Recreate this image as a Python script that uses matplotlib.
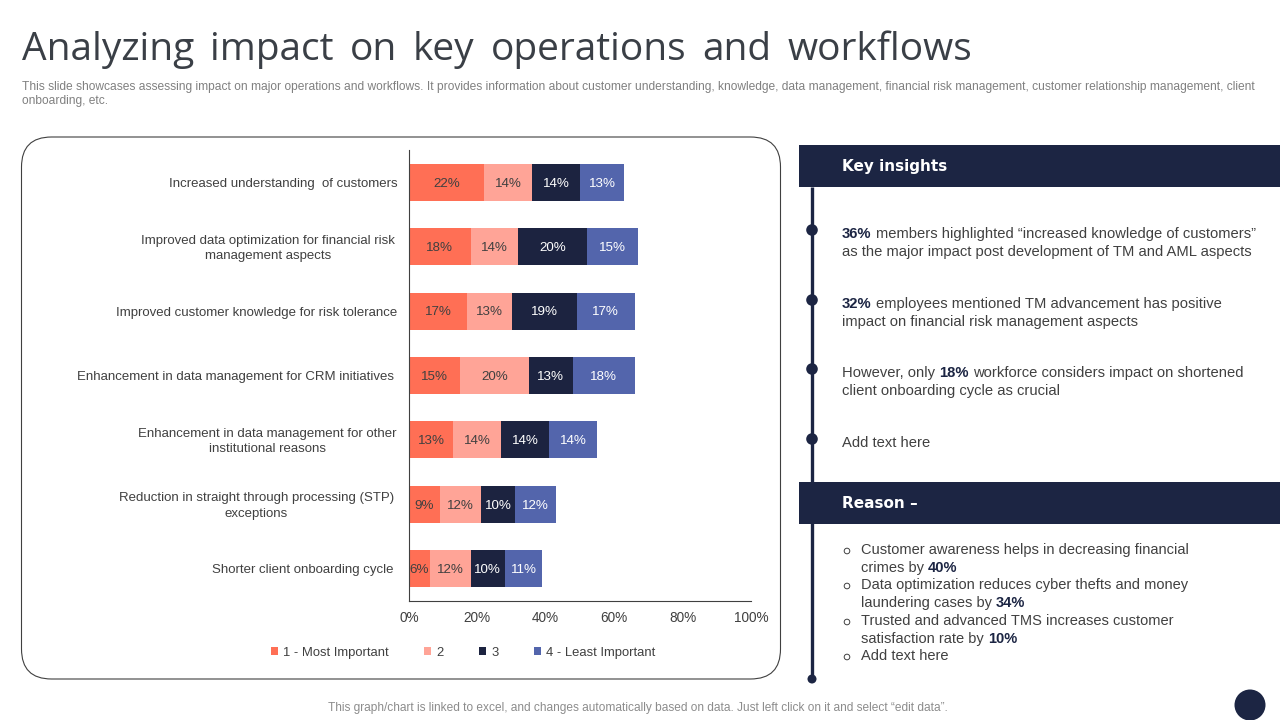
import matplotlib
matplotlib.use("Agg")
import numpy as np
import matplotlib.pyplot as plt
from matplotlib.patches import FancyBboxPatch, Rectangle, Circle

plt.rcParams["font.family"] = ["Liberation Sans", "DejaVu Sans"]

# ----------------- Data -----------------
categories = [
    "Increased understanding  of customers",
    "Improved data optimization for financial risk\nmanagement aspects",
    "Improved customer knowledge for risk tolerance",
    "Enhancement in data management for CRM initiatives",
    "Enhancement in data management for other\ninstitutional reasons",
    "Reduction in straight through processing (STP)\nexceptions",
    "Shorter client onboarding cycle",
]
series_names = ["1 - Most Important", "2", "3", "4 - Least Important"]
most_important = [22, 18, 17, 15, 13, 9, 6]
second = [14, 14, 13, 20, 14, 12, 12]
third = [14, 20, 19, 13, 14, 10, 10]
least_important = [13, 15, 17, 18, 14, 12, 11]
x_ticks = [0, 20, 40, 60, 80, 100]

title = "Analyzing impact on key operations and workflows"
subtitle = [
    "This slide showcases assessing impact on major operations and workflows. It provides information about customer understanding, knowledge, data management, financial risk management, customer relationship management, client",
    "onboarding, etc.",
]
footer = "This graph/chart is linked to excel, and changes automatically based on data. Just left click on it and select \u201cedit data\u201d."

# each line is a list of (text, bold) runs
insights = [
    [[("36%", True), (" members highlighted \u201cincreased knowledge of customers\u201d", False)],
     [("as the major impact post development of TM and AML aspects", False)]],
    [[("32%", True), (" employees mentioned TM advancement has positive", False)],
     [("impact on financial risk management aspects", False)]],
    [[("However, only ", False), ("18%", True), (" workforce considers impact on shortened", False)],
     [("client onboarding cycle as crucial", False)]],
    [[("Add text here", False)]],
]
reasons = [
    [[("Customer awareness helps in decreasing financial", False)],
     [("crimes by ", False), ("40%", True)]],
    [[("Data optimization reduces cyber thefts and money", False)],
     [("laundering cases by ", False), ("34%", True)]],
    [[("Trusted and advanced TMS increases customer", False)],
     [("satisfaction rate by ", False), ("10%", True)]],
    [[("Add text here", False)]],
]

NAVY = "#1c2543"
TEXT = "#404040"
colors = ["#ff6f55", "#ffa497", "#1c2340", "#5365ac"]
label_colors = ["#404040", "#404040", "white", "white"]

W, H = 1280, 720
fig = plt.figure(figsize=(12.8, 7.2), dpi=100)

# page layer in pixel coordinates
page = fig.add_axes([0, 0, 1, 1])
page.set_xlim(0, W)
page.set_ylim(H, 0)
page.axis("off")


def draw_runs(x, y, runs, size, color=TEXT, bold_color=NAVY):
    # draw text pieces side by side on one baseline, measuring each to place the next
    renderer = fig.canvas.get_renderer()
    for text, bold in runs:
        lead = len(text) - len(text.lstrip(" "))
        trail = len(text) - len(text.rstrip(" "))
        space = 0.278 * size * 100 / 72
        x += lead * space
        t = page.text(x, y + 5, text.strip(" "), fontsize=size, va="baseline", ha="left",
                      color=bold_color if bold else color,
                      fontweight="bold" if bold else "normal")
        x += t.get_window_extent(renderer).width + trail * space
    return x


# title words have wider gaps than the font's own space
renderer = fig.canvas.get_renderer()
title_x = 22
for word in title.split(" "):
    t = page.text(title_x, 60, word, fontsize=28, color="#3a3f46", family="Open Sans",
                  va="baseline")
    title_x += t.get_window_extent(renderer).width + 16

for line, y in zip(subtitle, [87, 101]):
    page.text(22, y, line, fontsize=8.65, color="#808080", va="center")
page.text(638, 708, footer, fontsize=8.6, color="#8c8c8c", ha="center", va="center")

# rounded chart frame
page.add_patch(FancyBboxPatch((21.5 + 30, 137 + 30), 759 - 60, 542 - 60,
                              boxstyle="round,pad=30,rounding_size=30",
                              fc="white", ec="#404040", lw=0.8))

# right hand panel
page.plot([812, 812], [187, 679], color=NAVY, lw=2.4, solid_capstyle="butt")
for y0, label in zip([145, 482], ["Key insights", "Reason \u2013"]):
    page.add_patch(Rectangle((799, y0), 481, 42, fc=NAVY, ec="none", zorder=3))
    page.text(842, y0 + 22, label, fontsize=11, color="white", fontweight="bold",
              family="DejaVu Sans", va="center", zorder=4)

for group, y0 in zip(insights, [233, 303, 372, 442]):
    page.add_patch(Circle((812, y0 - 3), 5.8, fc=NAVY, ec="none", zorder=3))
    for i, runs in enumerate(group):
        draw_runs(842, y0 + i * 18, runs, 10.6)
page.add_patch(Circle((812, 679), 4.5, fc=NAVY, ec="none", zorder=3))

for group, y0 in zip(reasons, [549, 584, 620, 655]):
    page.add_patch(Circle((847, y0 + 2), 2.8, fc="white", ec=TEXT, lw=0.7))
    for i, runs in enumerate(group):
        draw_runs(861, y0 + i * 18, runs, 10.5)

page.add_patch(Circle((1250, 705), 15.5, fc=NAVY, ec="none"))

# ----------------- Stacked bar chart -----------------
ax = fig.add_axes([409 / W, 1 - 601 / H, (751 - 409) / W, (601 - 150) / H])
ax.patch.set_alpha(0)
y = np.arange(len(categories))
left = np.zeros(len(categories))
all_series = [most_important, second, third, least_important]
for name, values, c, lc in zip(series_names, all_series, colors, label_colors):
    bars = ax.barh(y, values, left=left, height=0.575, color=c, label=name)
    value_labels = ax.bar_label(bars, labels=[f"{v}%" for v in values], label_type="center",
                                color=lc, fontsize=9.6)
    for vl in value_labels:
        vl.xyann = (0, -1)
    left += np.array(values)

ax.set_xlim(0, 100)
ax.set_ylim(len(categories) - 0.5, -0.5)
ax.set_xticks(x_ticks)
ax.set_xticklabels([f"{v}%" for v in x_ticks], fontsize=9.8, color=TEXT)
ax.set_yticks(y)
ax.set_yticklabels([])
ax.tick_params(length=0)
ax.tick_params(axis="x", pad=7.5)
for side in ["top", "right"]:
    ax.spines[side].set_visible(False)
for side in ["left", "bottom"]:
    ax.spines[side].set_color("#404040")
    ax.spines[side].set_linewidth(0.8)

# category labels sit a few pixels off the axis, not all at the same spot
label_pads = [11, 14, 12, 15, 12, 15, 15]
for i, (cat, pad) in enumerate(zip(categories, label_pads)):
    ax.annotate(cat, xy=(0, i), xytext=(-pad * 0.72, -1.2), textcoords="offset points",
                ha="right", va="center", multialignment="center", fontsize=9.5,
                color=TEXT, linespacing=1.35, annotation_clip=False)

ax.legend(loc="center", bbox_to_anchor=((463 - 409) / (751 - 409), (601 - 653) / (601 - 150)),
          ncol=4, frameon=False, fontsize=9.4, handlelength=0.55, handleheight=0.55,
          handletextpad=0.4, columnspacing=2.7, labelcolor=TEXT)

plt.savefig("out.png", dpi=100)
plt.close()
